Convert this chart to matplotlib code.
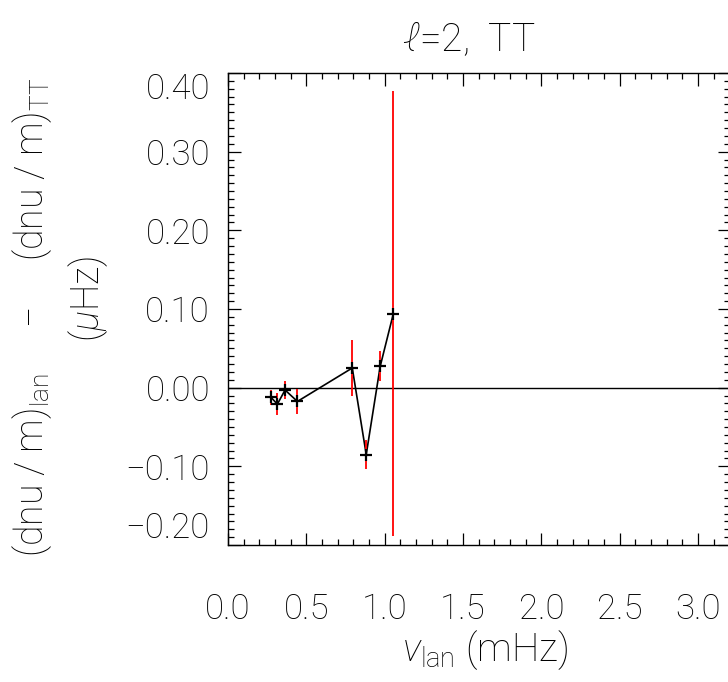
import numpy as np
import matplotlib
matplotlib.use("Agg")
import matplotlib.pyplot as plt
from matplotlib.ticker import MultipleLocator, FuncFormatter

# l=2 TT differences
freq = [0.273, 0.315, 0.364, 0.443, 0.793, 0.882, 0.971, 1.055]      # mHz
diff = [-0.012, -0.021, -0.003, -0.0175, 0.025, -0.085, 0.027, 0.094]  # muHz
err = [0.0095, 0.0137, 0.011, 0.0157, 0.036, 0.018, 0.019, 0.283]

xticks = [0.0, 0.5, 1.0, 1.5, 2.0, 2.5, 3.0]
yticks = [-0.20, -0.10, 0.00, 0.10, 0.20, 0.30, 0.40]

plt.rcParams['font.family'] = ['Roboto', 'DejaVu Sans']
plt.rcParams['font.weight'] = 'light'
plt.rcParams['mathtext.fontset'] = 'custom'
plt.rcParams['mathtext.rm'] = 'Roboto:light'
plt.rcParams['mathtext.it'] = 'Roboto:italic:light'

fs = 25
W, H = 728, 682
fig = plt.figure(figsize=(W / 100, H / 100), dpi=100)
left, right, top, bottom = 228, 729.5, 73, 545
ax = fig.add_axes([left / W, 1 - bottom / H, (right - left) / W, (bottom - top) / H])

ax.axhline(0, color='k', lw=1.0)
ax.plot(freq, diff, color='k', lw=1.2)
ax.errorbar(freq, diff, yerr=err, fmt='none', ecolor='red', elinewidth=1.3, capsize=0)
ax.plot(freq, diff, ls='none', marker='+', color='k', ms=9, mew=1.6)

ax.set_xlim(0, 3.2)
ax.set_ylim(-0.20, 0.40)
ax.set_xticks(xticks)
ax.set_yticks(yticks)
ax.xaxis.set_major_formatter(FuncFormatter(lambda v, p: f'{v:.1f}'))
ax.yaxis.set_major_formatter(FuncFormatter(
    lambda v, p: f'{v:.2f}'.replace('-', '\u2212') if abs(v) > 1e-9 else '0.00'))
ax.xaxis.set_minor_locator(MultipleLocator(0.1))
ax.yaxis.set_minor_locator(MultipleLocator(0.01))
ax.tick_params(which='both', direction='in', top=True, right=True, width=0.9)
ax.tick_params(which='major', length=9)
ax.tick_params(which='minor', length=4.5)
ax.tick_params(axis='x', labelsize=fs, pad=34)
ax.tick_params(axis='y', labelsize=fs, pad=13)
for s in ax.spines.values():
    s.set_linewidth(1.0)

# end labels sit inside the axis range, as in the original
ylabels = ax.get_yticklabels()
ylabels[0].set_va('bottom')
ylabels[-1].set_va('top')

fig.text(469 / W, 1 - 40 / H, r'$\ell$=2,  TT', fontsize=28,
         ha='center', va='center')
fig.text(485 / W, 1 - 650 / H, r'$\nu_{\rm lan}$ (mHz)', fontsize=28,
         ha='center', va='center')
fig.text(32 / W, 1 - 317 / H, '(dnu / m)$_{\\rm lan}$     \u2212     (dnu / m)$_{\\rm TT}$',
         fontsize=27, ha='center', va='center', rotation=90)
fig.text(88 / W, 1 - 299 / H, r'($\mu$Hz)', fontsize=27,
         ha='center', va='center', rotation=90)

fig.savefig('out.png', dpi=100)
